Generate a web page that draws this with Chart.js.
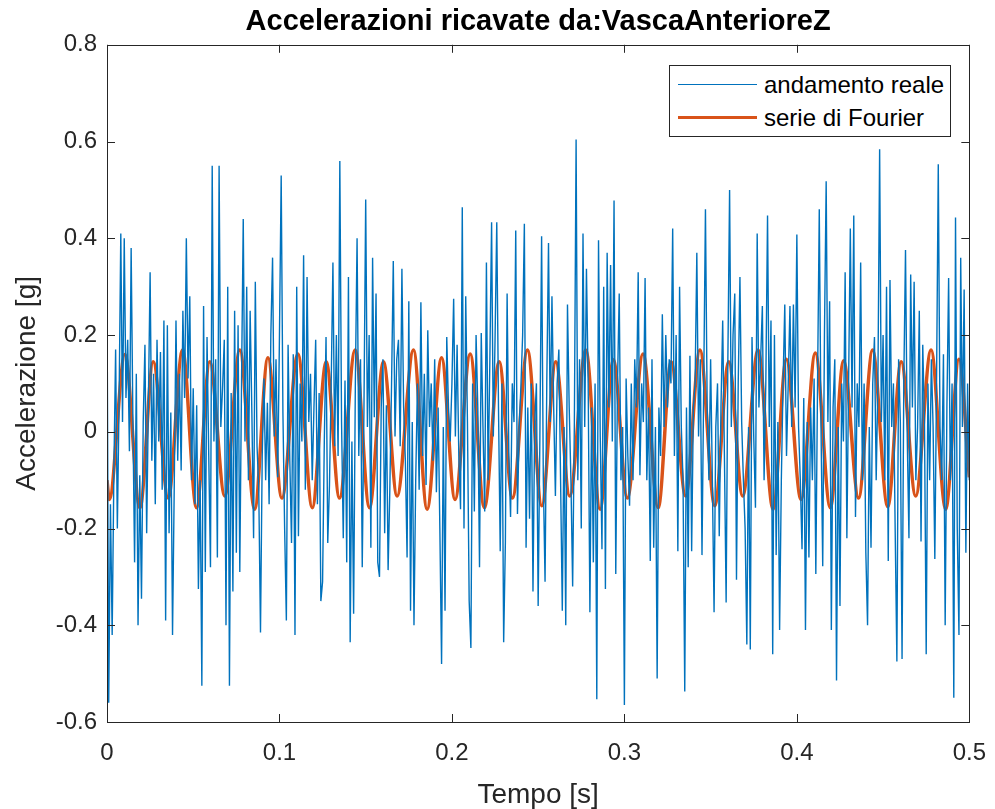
<!DOCTYPE html>
<html>
<head>
<meta charset="utf-8">
<script src="https://cdn.jsdelivr.net/npm/chart.js@4.4.1/dist/chart.umd.min.js"></script>
<style>
  body { margin: 0; background: #fff; }
  #wrap { position: relative; width: 995px; height: 809px; }
  #legend {
    position: absolute; left: 669px; top: 65px; width: 280px; height: 70px;
    border: 1px solid #262626; background: #fff;
    font-family: "Liberation Sans", Arial, sans-serif; font-size: 24px; color: #000;
  }
  .row { position: absolute; left: 0; height: 30px; line-height: 30px; }
  .row span.swatch { position: absolute; left: 8px; top: 14px; width: 79px; }
  .row span.txt { position: absolute; left: 94px; top: 0; white-space: nowrap; }
</style>
</head>
<body>
<div id="wrap">
  <canvas id="chart"></canvas>
  <div id="legend">
    <div class="row" style="top:4px"><span class="swatch" style="border-top:1.5px solid #0072BD"></span><span class="txt">andamento reale</span></div>
    <div class="row" style="top:37px"><span class="swatch" style="border-top:3.5px solid #D95319;top:13px"></span><span class="txt">serie di Fourier</span></div>
  </div>
</div>
<script>
// Sampled acceleration, one value per millisecond (0 - 0.5 s)
const sampleStep = 0.001;
const realAcc = [
  0.29, -0.56, -0.15, -0.42, -0.08, 0.17, -0.2, 0.06, 0.41, 0.02, 0.40, 0.07, 0.19, -0.04, 0.38, 0.03, -0.27, 0.12, -0.40, -0.09,
  -0.345, 0.02, 0.18, -0.21, 0.06, 0.33, -0.06, 0.12, -0.15, 0.19, -0.02, 0.165, -0.12, 0.23, -0.39, 0.22, -0.21, 0.04, -0.42, -0.11,
  0.23, -0.06, 0.12, -0.08, 0.25, 0.07, 0.40, 0.11, 0.28, -0.1, 0.09, -0.15, 0.055, -0.325, -0.1, -0.525, 0.26, -0.29, 0.196, -0.05,
  -0.28, 0.55, -0.02, 0.15, -0.26, 0.55, 0.01, 0.09, 0.19, -0.40, 0.30, -0.525, 0.08, -0.33, 0.25, -0.25, 0.22, -0.29, 0.1, 0.44,
  -0.02, 0.30, -0.1, 0.25, 0.04, -0.22, 0.31, -0.03, -0.12, -0.415, -0.05, 0.11, -0.1, 0.06, -0.15, 0.2, 0.36, -0.01, 0.15, -0.094,
  0.2, 0.53, 0.04, -0.2, -0.39, 0.18, -0.06, -0.23, 0.16, -0.42, 0.30, -0.216, 0.1, -0.02, 0.365, -0.12, 0.32, 0.02, 0.12, -0.1,
  0.05, 0.19, -0.15, 0.08, -0.35, -0.31, -0.02, 0.196, -0.23, -0.11, 0.1, 0.35, -0.03, 0.2, -0.05, 0.56, 0.02, -0.22, 0.106, -0.27,
  0.32, -0.435, -0.02, -0.376, 0.1, 0.40, -0.05, 0.15, -0.28, 0.05, 0.48, 0.01, 0.2, -0.24, 0.36, 0.03, 0.286, -0.27, -0.30, 0.05,
  0.15, -0.21, 0.055, -0.286, -0.118, 0.1, 0.353, -0.01, 0.15, 0.19, -0.03, 0.337, 0.05, -0.06, -0.26, 0.27, -0.37, 0.02, -0.40, -0.1,
  0.1, -0.12, 0.268, -0.05, 0.12, -0.11, 0.21, 0.01, 0.1, -0.06, 0.15, -0.125, 0.05, -0.2, -0.48, 0.01, -0.37, 0.196, 0.05, -0.02,
  0.1, 0.275, -0.01, 0.18, -0.05, -0.16, 0.464, -0.2, 0.28, 0.02, -0.35, -0.447, 0.1, -0.165, 0.2, 0.05, -0.28, 0.204, 0.01, -0.165,
  0.35, -0.1, 0.15, 0.433, -0.01, 0.19, 0.433, 0.05, -0.247, 0.1, -0.435, -0.227, 0.286, -0.05, -0.176, 0.1, 0.02, 0.416, -0.17, 0.01,
  0.094, 0.2, 0.43, -0.24, 0.05, -0.18, 0.1, -0.33, 0.02, 0.1, -0.36, -0.01, 0.404, -0.1, -0.31, 0.1, 0.39, 0.02, 0.28, 0.05,
  -0.133, 0.1, 0.17, -0.1, -0.37, 0.01, -0.40, 0.263, 0.05, -0.1, -0.32, 0.02, 0.604, -0.1, 0.15, -0.2, 0.41, 0.01, 0.337, 0.1,
  -0.373, 0.05, -0.27, 0.1, -0.553, 0.396, -0.01, -0.243, 0.30, -0.325, 0.37, 0.05, 0.345, -0.02, 0.478, -0.294, 0.1, 0.286, -0.1, 0.01,
  -0.565, 0.11, -0.05, -0.153, 0.1, -0.1, 0.15, 0.05, 0.33, -0.09, 0.1, 0.02, 0.318, -0.1, 0.05, -0.267, 0.15, -0.24, 0.01, -0.51,
  0.05, -0.05, 0.243, 0.01, 0.2, 0.05, 0.15, 0.1, 0.42, -0.05, 0.2, -0.247, 0.30, 0.01, -0.1, -0.537, 0.05, -0.28, 0.157, -0.247,
  0.05, 0.1, 0.37, -0.01, 0.15, -0.255, 0.1, 0.46, 0.05, -0.1, 0.15, -0.1, -0.373, 0.01, 0.1, -0.216, 0.05, 0.23, -0.05, -0.353,
  0.15, 0.50, 0.01, 0.2, 0.286, -0.306, 0.1, 0.32, 0.02, -0.1, -0.2, -0.44, 0.01, -0.45, 0.196, -0.01, -0.157, 0.41, 0.05, 0.15,
  0.26, -0.1, 0.1, 0.447, 0.01, 0.23, -0.46, 0.2, -0.255, 0.02, -0.41, -0.1, 0.1, 0.263, -0.05, 0.1, 0.26, 0.01, 0.263, 0.05,
  0.408, 0.01, -0.1, -0.243, 0.07, -0.41, 0.02, -0.26, 0.05, -0.1, 0.11, -0.294, 0.1, 0.46, 0.01, -0.278, 0.2, 0.518, 0.02, 0.27,
  -0.41, 0.05, 0.15, -0.514, 0.01, -0.36, 0.1, -0.02, 0.33, -0.22, 0.1, 0.42, 0.05, 0.447, -0.176, 0.1, 0.01, 0.35, -0.1, 0.1,
  -0.25, -0.40, 0.01, -0.24, 0.1, 0.196, -0.1, 0.1, 0.584, 0.02, 0.2, -0.1, 0.30, -0.267, 0.314, 0.01, 0.1, -0.2, -0.475, 0.15,
  0.02, -0.47, 0.1, 0.376, -0.01, -0.22, 0.325, 0.05, 0.31, -0.1, 0.01, 0.25, -0.227, 0.18, 0.02, -0.46, 0.1, -0.1, 0.15, 0.01,
  -0.263, 0.1, 0.553, 0.01, -0.1, 0.16, -0.40, 0.05, 0.318, -0.1, 0.1, -0.55, 0.443, -0.2, -0.42, 0.36, 0.01, 0.294, -0.25, 0.10,
  -0.1
];

// Fourier series: times of the turning points and their values
const fourierT = [
  0, 0.0013, 0.0104, 0.0191, 0.0268, 0.0355, 0.0438, 0.0519, 0.0596, 0.0683,
  0.0770, 0.0856, 0.0933, 0.1014, 0.1107, 0.1190, 0.1271, 0.1348, 0.1439, 0.1522,
  0.1603, 0.1682, 0.1777, 0.1856, 0.1940, 0.2018, 0.2106, 0.2188, 0.2274, 0.2351,
  0.2438, 0.2521, 0.2602, 0.2683, 0.2776, 0.2859, 0.2936, 0.3017, 0.3108, 0.3196,
  0.3271, 0.3355, 0.3438, 0.3524, 0.3605, 0.3686, 0.3775, 0.3862, 0.3939, 0.4024,
  0.4107, 0.4194, 0.4271, 0.4358, 0.4439, 0.4527, 0.4605, 0.4689, 0.4778, 0.4863,
  0.4940, 0.5
];
const fourierY = [
  -0.10, -0.14, 0.16, -0.157, 0.145, -0.137, 0.169, -0.157, 0.145, -0.133,
  0.169, -0.16, 0.153, -0.137, 0.161, -0.157, 0.145, -0.137, 0.169, -0.157,
  0.145, -0.133, 0.169, -0.16, 0.153, -0.14, 0.161, -0.157, 0.145, -0.137,
  0.169, -0.153, 0.145, -0.133, 0.169, -0.16, 0.149, -0.137, 0.161, -0.157,
  0.145, -0.133, 0.169, -0.153, 0.145, -0.133, 0.169, -0.16, 0.15, -0.14,
  0.163, -0.157, 0.147, -0.137, 0.169, -0.155, 0.145, -0.133, 0.169, -0.16,
  0.15, -0.094
];

const xTicks = [0, 0.1, 0.2, 0.3, 0.4, 0.5];
const yTicks = [-0.6, -0.4, -0.2, 0, 0.2, 0.4, 0.6, 0.8];

const axisColor = '#262626';
Chart.defaults.font.family = '"Liberation Sans", Arial, sans-serif';
Chart.defaults.color = axisColor;

// MATLAB style box with inward ticks on all four sides
const axesBox = {
  id: 'axesBox',
  afterDatasetsDraw(chart) {
    const { ctx, chartArea: a, scales: { x, y } } = chart;
    const len = 8;
    ctx.save();
    ctx.strokeStyle = axisColor;
    ctx.lineWidth = 1;
    ctx.beginPath();
    xTicks.forEach(v => {
      const px = Math.round(x.getPixelForValue(v)) + 0.5;
      ctx.moveTo(px, a.bottom); ctx.lineTo(px, a.bottom - len);
      ctx.moveTo(px, a.top); ctx.lineTo(px, a.top + len);
    });
    yTicks.forEach(v => {
      const py = Math.round(y.getPixelForValue(v)) + 0.5;
      ctx.moveTo(a.left, py); ctx.lineTo(a.left + len, py);
      ctx.moveTo(a.right, py); ctx.lineTo(a.right - len, py);
    });
    ctx.stroke();
    ctx.strokeRect(Math.round(a.left) + 0.5, Math.round(a.top) + 0.5, Math.round(a.width), Math.round(a.height));
    ctx.restore();
  }
};

const fmt = v => String(Math.round(v * 10) / 10);

new Chart(document.getElementById('chart'), {
  type: 'line',
  data: {
    datasets: [
      {
        label: 'andamento reale',
        data: realAcc.map((v, i) => ({ x: i * sampleStep, y: v })),
        borderColor: '#0072BD',
        borderWidth: 1.4,
        pointRadius: 0,
        tension: 0
      },
      {
        label: 'serie di Fourier',
        data: fourierT.map((t, i) => ({ x: t, y: fourierY[i] })),
        borderColor: '#D95319',
        borderWidth: 3.5,
        pointRadius: 0,
        cubicInterpolationMode: 'monotone'
      }
    ]
  },
  options: {
    responsive: true,
    maintainAspectRatio: false,
    animation: false,
    events: [],
    layout: { padding: { left: 0, right: 24, top: 0, bottom: 0 } },
    plugins: {
      legend: { display: false },
      tooltip: { enabled: false },
      title: {
        display: true,
        fullSize: false,
        text: 'Accelerazioni ricavate da:VascaAnterioreZ',
        color: '#000',
        font: { size: 29, weight: 'bold' },
        padding: { top: 5, bottom: 5 }
      }
    },
    scales: {
      x: {
        type: 'linear',
        min: 0,
        max: 0.5,
        afterFit: s => { s.height = 87; },
        afterBuildTicks: s => { s.ticks = xTicks.map(v => ({ value: v })); },
        grid: { display: false },
        border: { display: false },
        ticks: { font: { size: 24 }, padding: 9, maxRotation: 0, callback: fmt },
        title: {
          display: true,
          text: 'Tempo [s]',
          font: { size: 28, lineHeight: 1 },
          padding: { top: 0, bottom: 0 }
        }
      },
      y: {
        min: -0.6,
        max: 0.8,
        afterFit: s => { s.width = 107; },
        afterBuildTicks: s => { s.ticks = yTicks.map(v => ({ value: v })); },
        grid: { display: false },
        border: { display: false },
        ticks: { font: { size: 24 }, padding: 2, callback: fmt },
        title: {
          display: true,
          text: 'Accelerazione [g]',
          font: { size: 28, lineHeight: 1 },
          padding: { top: 13, bottom: 0 }
        }
      }
    }
  },
  plugins: [axesBox]
});
</script>
</body>
</html>
